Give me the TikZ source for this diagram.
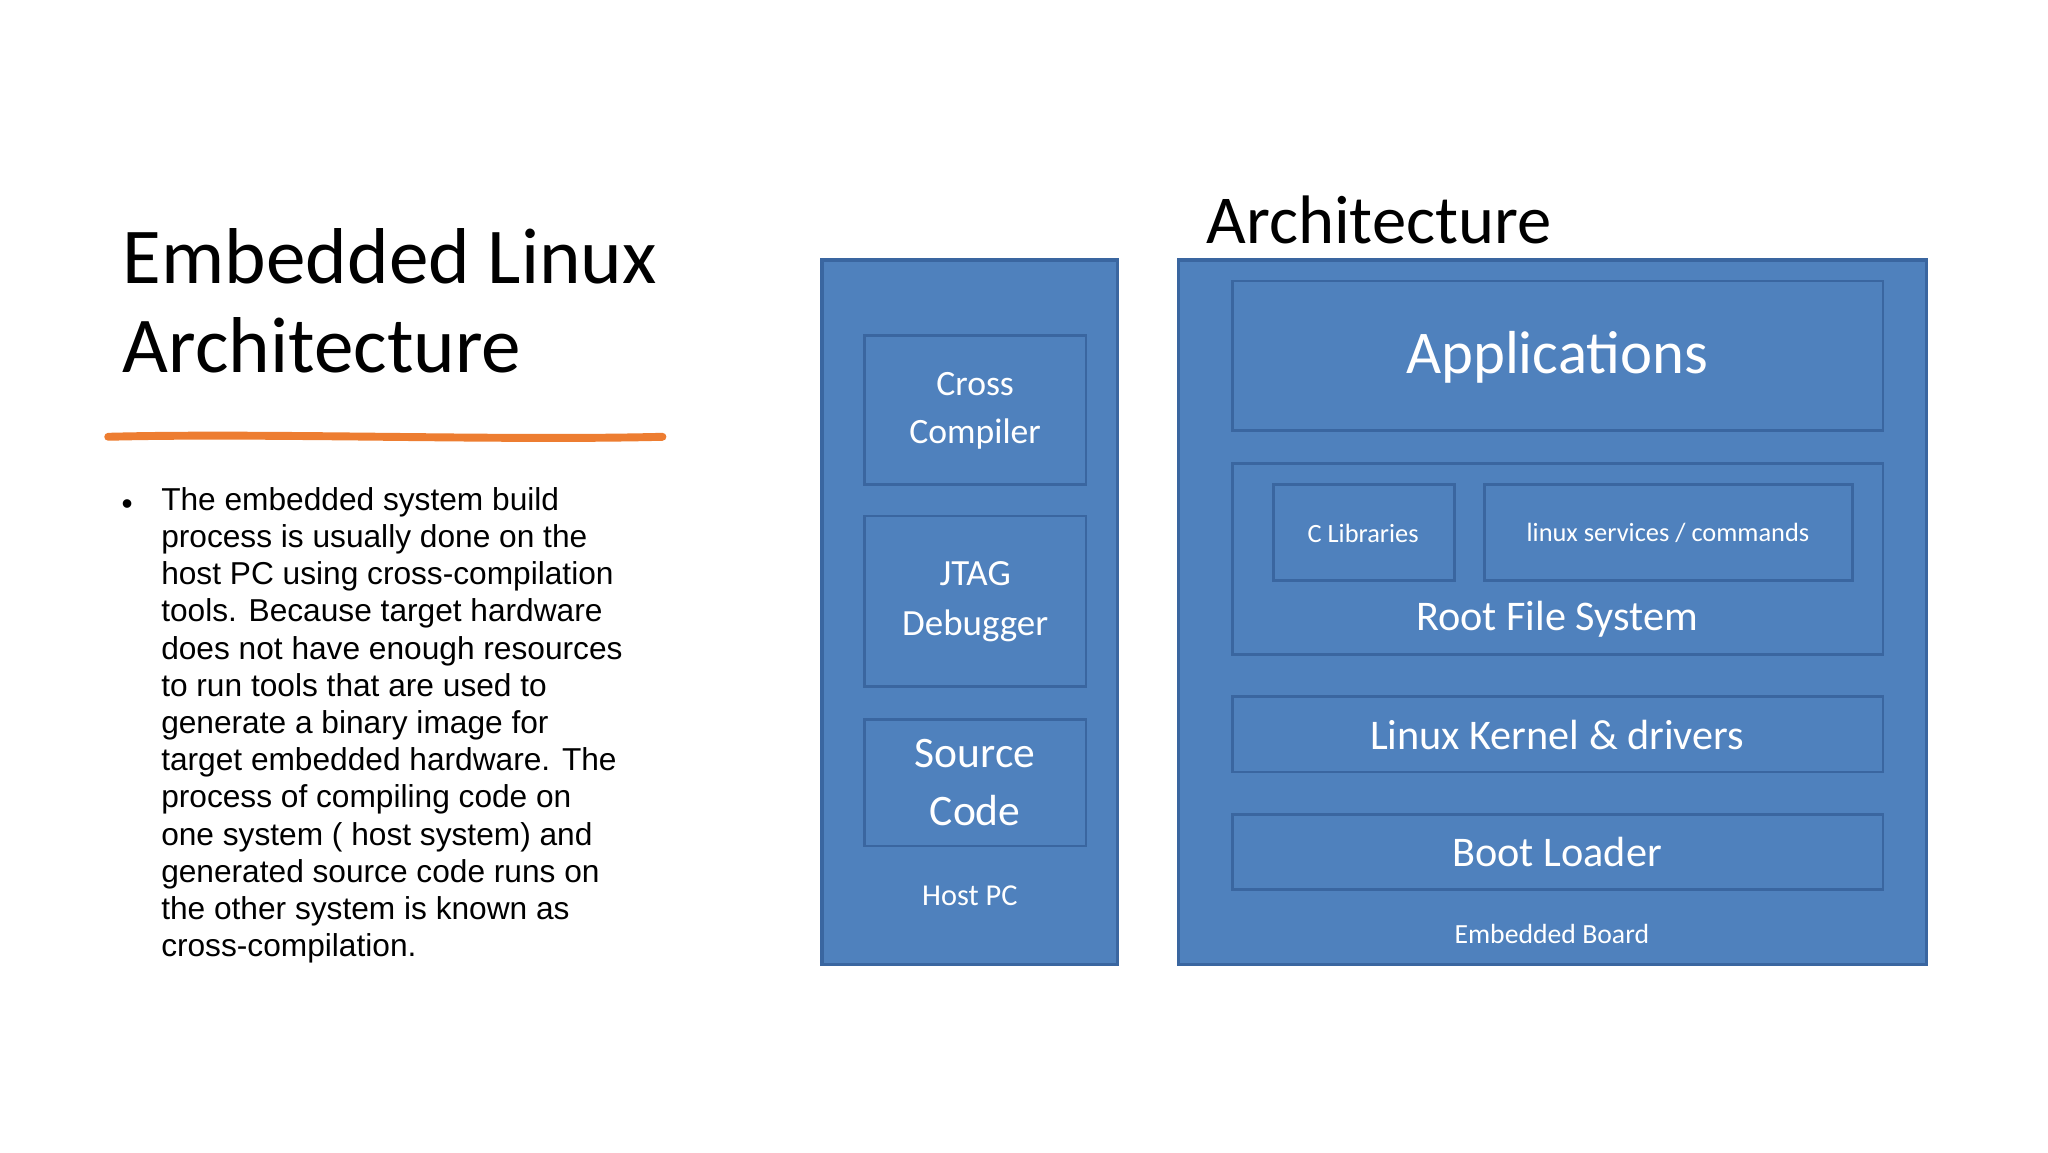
\documentclass[tikz,border=0pt]{standalone}
\usepackage{fontspec}
\setmainfont{Carlito}
\newfontfamily\arialf{Liberation Sans}
\begin{document}
\begin{tikzpicture}[x=1pt,y=-1pt,
  outer/.style={draw=blbord,line width=2.5pt,fill=blfill},
  inner/.style={draw=blbord,line width=2pt,fill=blfill},
  wt/.style={text=white,align=center,font=\fontsize{#1}{1.35\dimexpr#1pt\relax}\selectfont}]
\definecolor{blfill}{HTML}{4F81BD}
\definecolor{blbord}{HTML}{3A66A0}
\definecolor{orng}{HTML}{ED7D31}
\useasboundingbox (0,0) rectangle (1552,873);
\fill[white] (0,0) rectangle (1552,873);
% left title
\node[anchor=base west,font=\fontsize{60}{70}\selectfont\mdseries,inner sep=0] (t1) at (93,215) {Embedded Linux};
\node[anchor=base west,font=\fontsize{60}{70}\selectfont,inner sep=0] (t2) at (93,282) {Architecture};
\draw[orng,line width=6pt,line cap=round] (82,331) .. controls (200,328) and (380,334) .. (502,331);
\node[anchor=base west,font=\arialf\fontsize{24}{28.2}\selectfont,inner sep=0] (bul) at (92,390) {•};
\node[anchor=north west,font=\arialf\fontsize{24}{28.2}\selectfont,align=left,inner sep=0] (body) at (122,369) {The embedded system build\\process is usually done on the\\host PC using cross-compilation\\tools. Because target hardware\\does not have enough resources\\to run tools that are used to\\generate a binary image for\\target embedded hardware. The\\process of compiling code on\\one system ( host system)  and\\generated source code runs on\\the other system is known as\\cross-compilation.};
% right diagram
\node[font=\fontsize{52}{60}\selectfont,inner sep=0] (arch) at (1045,167) {Architecture};
\draw[outer] (623,197) rectangle (847,731);
\draw[outer] (893,197) rectangle (1460,731);
\draw[inner] (655,254) rectangle (823,367);
\node[wt=27] (cc) at (739,311) {Cross\\Compiler};
\draw[inner] (655,391) rectangle (823,520);
\node[wt=28] (jtag) at (739,456) {JTAG\\Debugger};
\draw[inner] (655,545) rectangle (823,641);
\node[wt=33] (src) at (739,593) {Source\\Code};
\node[wt=23] (host) at (735,679) {Host PC};
\draw[inner] (934,213) rectangle (1427,326);
\node[wt=46] (app) at (1180,271) {Applications};
\draw[inner] (934,351) rectangle (1427,496);
\draw[inner] (965,367) rectangle (1102,440);
\node[wt=20] (clib) at (1033,404) {C Libraries};
\draw[inner] (1125,367) rectangle (1404,440);
\node[wt=20] (lsvc) at (1264,404) {linux services / commands};
\node[wt=32] (rfs) at (1180,469) {Root File System};
\draw[inner] (934,528) rectangle (1427,585);
\node[wt=32] (kern) at (1180,557) {Linux Kernel \& drivers};
\draw[inner] (934,617) rectangle (1427,674);
\node[wt=32] (boot) at (1180,646) {Boot Loader};
\node[wt=21] (eb) at (1176,708) {Embedded Board};
\end{tikzpicture}
\end{document}
